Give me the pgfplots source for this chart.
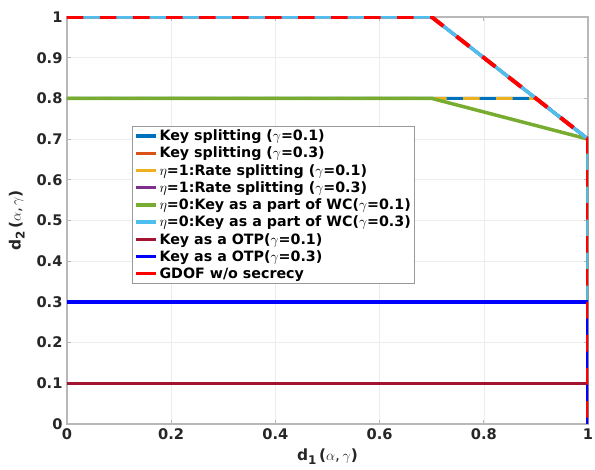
\documentclass[border=0pt]{standalone}
\usepackage{pgfplots}
\pgfplotsset{compat=1.18}
\usepackage{fontspec}
\setmainfont{DejaVu Sans}
\definecolor{mblue}{rgb}{0,0.447,0.741}
\definecolor{morange}{rgb}{0.850,0.325,0.098}
\definecolor{myellow}{rgb}{0.929,0.694,0.125}
\definecolor{mpurple}{rgb}{0.494,0.184,0.556}
\definecolor{mgreen}{rgb}{0.466,0.674,0.188}
\definecolor{mcyan}{rgb}{0.301,0.745,0.933}
\definecolor{mdred}{rgb}{0.635,0.078,0.184}
\definecolor{axgray}{rgb}{0.72,0.72,0.72}
\definecolor{txt}{rgb}{0.15,0.15,0.15}
\newcommand{\lab}[1]{\textbf{d}\raisebox{-4bp}{\bfseries\fontsize{12}{13}\selectfont #1}\textbf{\,(}$\alpha$,\,$\gamma$\textbf{)}}
\begin{document}
\begin{tikzpicture}
\begin{axis}[name=ax,
  scale only axis, width=521bp, height=407bp,
  xmin=0, xmax=1, ymin=0, ymax=1,
  xtick={0,0.2,...,1}, ytick={0,0.1,...,1},
  xticklabels={0,0.2,0.4,0.6,0.8,1},
  yticklabels={0,0.1,0.2,0.3,0.4,0.5,0.6,0.7,0.8,0.9,1},
  tick align=inside, major tick length=4bp,
  axis line style={axgray, line width=1.2bp},
  tick style={axgray, line width=0.8bp},
  grid=major, major grid style={gray!15, line width=0.6bp},
  tick label style={font=\fontsize{14.7}{17}\selectfont\bfseries, text=txt},
  /pgf/number format/assume math mode=true,
  xticklabel style={yshift=-1bp},
  yticklabel style={xshift=-1bp},
  xlabel={\lab{1}},
  ylabel={\lab{2}},
  label style={font=\fontsize{15.5}{17}\selectfont, text=txt},
  xlabel style={yshift=-2bp},
  ylabel style={yshift=5bp},
  legend cell align=left,
  legend style={at={(0.125,0.732)}, anchor=north west, draw=gray!80, line width=0.8bp,
    font=\fontsize{14.3}{16}\selectfont\bfseries, text=black, row sep=0.9bp,
    inner sep=1.5bp},
  legend image post style={solid},
  legend image code/.code={\draw[#1, line width=3.5bp] (0cm,0cm) -- (20bp,0cm);},
]
\addplot[mblue, line width=3bp] coordinates {(0,0.8) (0.9,0.8) (1,0.7) (1,0)};
\addlegendentry{Key splitting ($\gamma$=0.1)}
\addplot[morange, line width=3bp] coordinates {(0,1) (0.7,1) (1,0.7) (1,0)};
\addlegendentry{Key splitting ($\gamma$=0.3)}
\addplot[myellow, line width=3bp, dash pattern=on 16.5bp off 16.5bp] coordinates {(0,0.8) (0.9,0.8) (1,0.7) (1,0)};
\addlegendentry{$\eta$=1:Rate splitting ($\gamma$=0.1)}
\addplot[mpurple, line width=3bp] coordinates {(0,1) (0.7,1) (1,0.7) (1,0)};
\addlegendentry{$\eta$=1:Rate splitting ($\gamma$=0.3)}
\addplot[mgreen, line width=3.5bp] coordinates {(0,0.8) (0.7,0.8) (1,0.7) (1,0)};
\addlegendentry{$\eta$=0:Key as a part of WC($\gamma$=0.1)}
\addplot[mcyan, line width=3.5bp] coordinates {(0,1) (0.7,1) (1,0.7) (1,0.3)};
\addlegendentry{$\eta$=0:Key as a part of WC($\gamma$=0.3)}
\addplot[mdred, line width=3.5bp] coordinates {(0,0.1) (1,0.1) (1,0)};
\addlegendentry{Key as a OTP($\gamma$=0.1)}
\addplot[blue, line width=3.5bp] coordinates {(0,0.3) (1,0.3) (1,0)};
\addlegendentry{Key as a OTP($\gamma$=0.3)}
\addplot[red, line width=4bp, dash pattern=on 16.5bp off 16.5bp] coordinates {(0,1) (0.7,1) (1,0.7) (1,0)};
\addlegendentry{GDOF w/o secrecy}
\end{axis}
\pgfresetboundingbox
\path (ax.south west) ++(-67bp,-46bp) rectangle ++(595bp,470bp);
\end{tikzpicture}
\end{document}
